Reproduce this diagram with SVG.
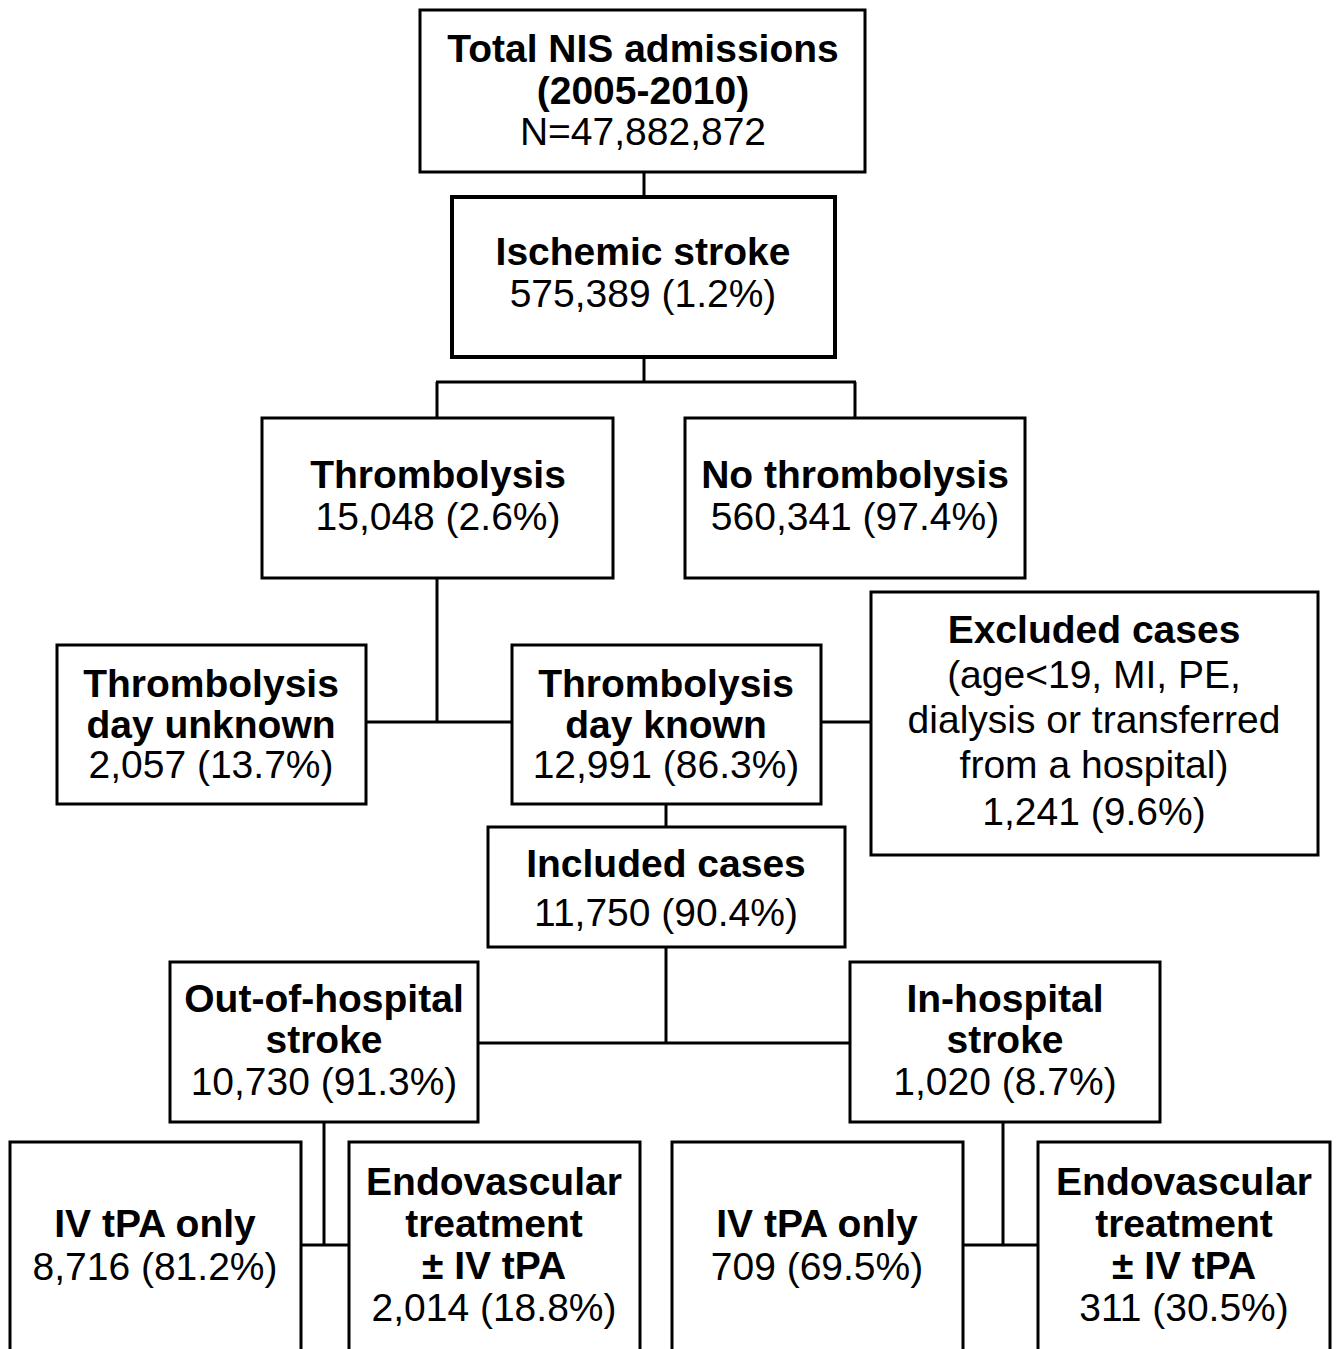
<svg xmlns="http://www.w3.org/2000/svg" width="1340" height="1349" viewBox="0 0 1340 1349">
<style>
rect{fill:#fff;stroke:#000;stroke-width:3}
.c line{stroke:#000;stroke-width:3}
text{font-family:"Liberation Sans",Arial,sans-serif;font-size:39px;text-anchor:middle;fill:#000}
.b{font-weight:bold}
</style>
<rect x="0" y="0" width="1340" height="1349" style="stroke:none"/>
<g class="c" id="connectors">
<line x1="644" y1="172" x2="644" y2="197"/>
<line x1="644" y1="357" x2="644" y2="382"/>
<line x1="436" y1="382" x2="856" y2="382"/>
<line x1="437" y1="382" x2="437" y2="418"/>
<line x1="855" y1="382" x2="855" y2="418"/>
<line x1="437" y1="578" x2="437" y2="722"/>
<line x1="366" y1="722" x2="512" y2="722"/>
<line x1="821" y1="722" x2="871" y2="722"/>
<line x1="666" y1="804" x2="666" y2="827"/>
<line x1="666" y1="947" x2="666" y2="1043"/>
<line x1="478" y1="1043" x2="850" y2="1043"/>
<line x1="324" y1="1122" x2="324" y2="1245"/>
<line x1="301" y1="1245" x2="349" y2="1245"/>
<line x1="1003" y1="1122" x2="1003" y2="1245"/>
<line x1="963" y1="1245" x2="1038" y2="1245"/>
</g>
<g id="total">
<rect x="420" y="10" width="445" height="162"/>
<text x="643" y="62" class="b">Total NIS admissions</text>
<text x="643" y="104" class="b">(2005-2010)</text>
<text x="643" y="145">N=47,882,872</text>
</g>
<g id="ischemic">
<rect x="452" y="197" width="383" height="160" style="stroke-width:4"/>
<text x="643" y="265" class="b">Ischemic stroke</text>
<text x="643" y="307">575,389 (1.2%)</text>
</g>
<g id="thrombolysis">
<rect x="262" y="418" width="351" height="160"/>
<text x="438" y="488" class="b">Thrombolysis</text>
<text x="438" y="530">15,048 (2.6%)</text>
</g>
<g id="no-thrombolysis">
<rect x="685" y="418" width="340" height="160"/>
<text x="855" y="488" class="b">No thrombolysis</text>
<text x="855" y="530">560,341 (97.4%)</text>
</g>
<g id="day-unknown">
<rect x="57" y="645" width="309" height="159"/>
<text x="211" y="697" class="b">Thrombolysis</text>
<text x="211" y="738" class="b">day unknown</text>
<text x="211" y="778">2,057 (13.7%)</text>
</g>
<g id="day-known">
<rect x="512" y="645" width="309" height="159"/>
<text x="666" y="697" class="b">Thrombolysis</text>
<text x="666" y="738" class="b">day known</text>
<text x="666" y="778">12,991 (86.3%)</text>
</g>
<g id="excluded">
<rect x="871" y="592" width="447" height="263"/>
<text x="1094" y="643" class="b">Excluded cases</text>
<text x="1094" y="688">(age&lt;19, MI, PE,</text>
<text x="1094" y="733">dialysis or transferred</text>
<text x="1094" y="778">from a hospital)</text>
<text x="1094" y="825">1,241 (9.6%)</text>
</g>
<g id="included">
<rect x="488" y="827" width="357" height="120"/>
<text x="666" y="877" class="b">Included cases</text>
<text x="666" y="926">11,750 (90.4%)</text>
</g>
<g id="out-of-hospital">
<rect x="170" y="962" width="308" height="160"/>
<text x="324" y="1012" class="b">Out-of-hospital</text>
<text x="324" y="1053" class="b">stroke</text>
<text x="324" y="1095">10,730 (91.3%)</text>
</g>
<g id="in-hospital">
<rect x="850" y="962" width="310" height="160"/>
<text x="1005" y="1012" class="b">In-hospital</text>
<text x="1005" y="1053" class="b">stroke</text>
<text x="1005" y="1095">1,020 (8.7%)</text>
</g>
<g id="out-iv">
<rect x="10" y="1142" width="291" height="230"/>
<text x="155" y="1237" class="b">IV tPA only</text>
<text x="155" y="1280">8,716 (81.2%)</text>
</g>
<g id="out-endo">
<rect x="349" y="1142" width="291" height="230"/>
<text x="494" y="1195" class="b">Endovascular</text>
<text x="494" y="1237" class="b">treatment</text>
<text x="494" y="1279" class="b">± IV tPA</text>
<text x="494" y="1321">2,014 (18.8%)</text>
</g>
<g id="in-iv">
<rect x="672" y="1142" width="291" height="230"/>
<text x="817" y="1237" class="b">IV tPA only</text>
<text x="817" y="1280">709 (69.5%)</text>
</g>
<g id="in-endo">
<rect x="1038" y="1142" width="292" height="230"/>
<text x="1184" y="1195" class="b">Endovascular</text>
<text x="1184" y="1237" class="b">treatment</text>
<text x="1184" y="1279" class="b">± IV tPA</text>
<text x="1184" y="1321">311 (30.5%)</text>
</g>
</svg>
